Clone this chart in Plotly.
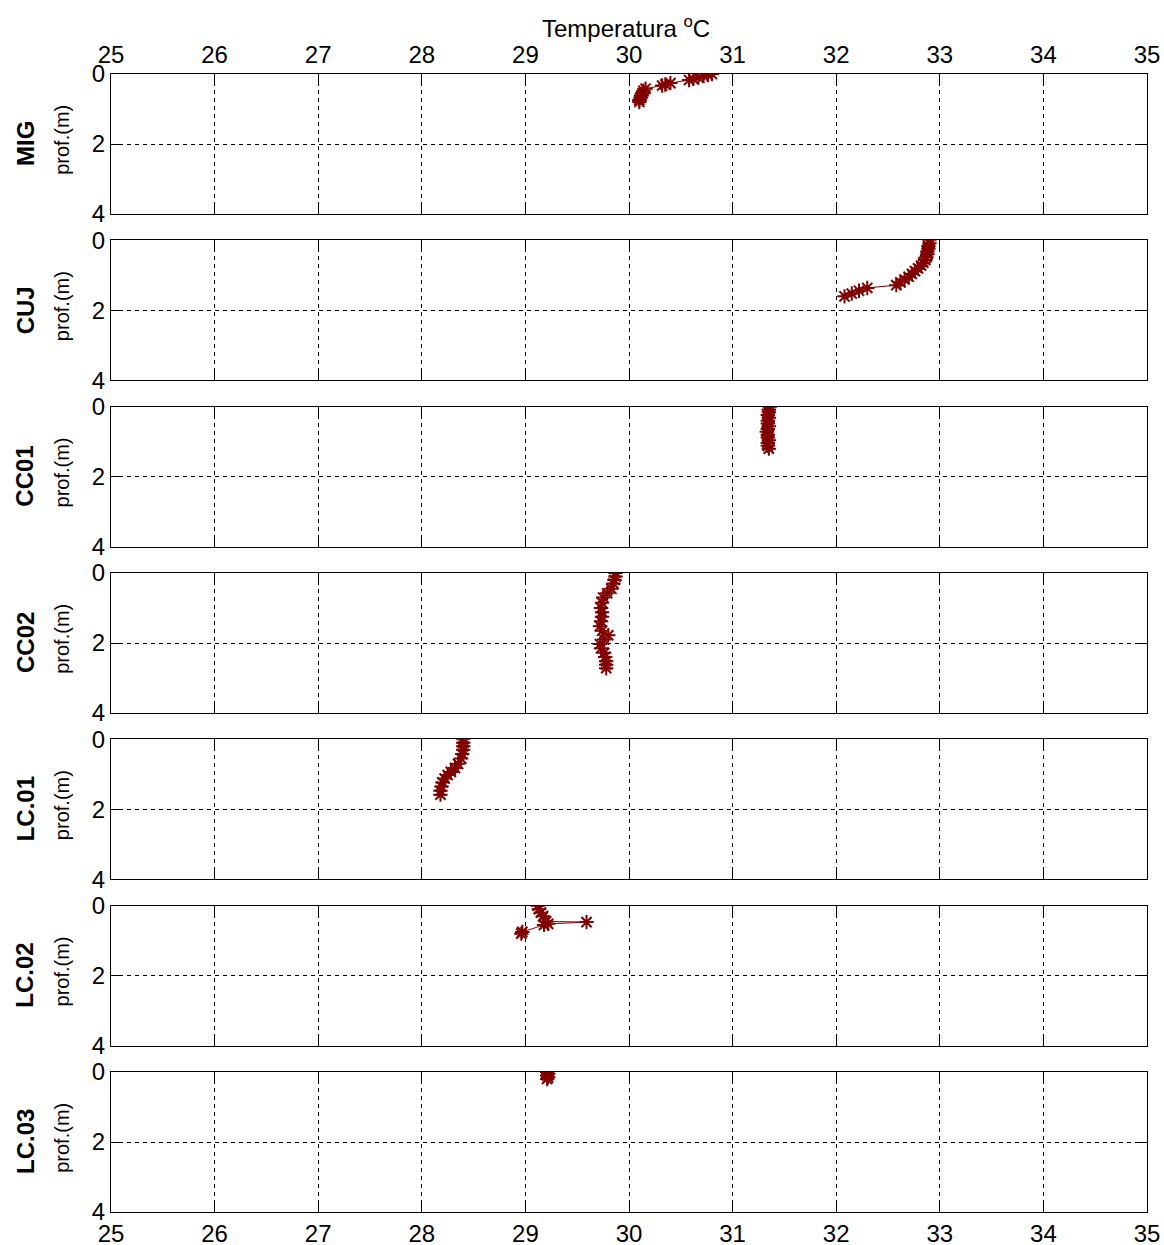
import plotly.graph_objects as go
from plotly.subplots import make_subplots

# Station names (top to bottom) and temperature profiles (°C vs depth in m)
stations = ["MIG", "CUJ", "CC01", "CC02", "LC.01", "LC.02", "LC.03"]

mig_temp = [30.80, 30.76, 30.72, 30.67, 30.62, 30.58, 30.40, 30.35, 30.32,
            30.16, 30.14, 30.13, 30.12, 30.11, 30.10, 30.10]
mig_depth = [0.00, 0.03, 0.06, 0.10, 0.14, 0.17, 0.26, 0.30, 0.33,
             0.42, 0.48, 0.55, 0.62, 0.68, 0.74, 0.80]

cuj_temp = [32.90, 32.90, 32.89, 32.89, 32.88, 32.88, 32.87, 32.86, 32.84,
            32.82, 32.79, 32.76, 32.73, 32.70, 32.66, 32.62, 32.58, 32.30,
            32.22, 32.15, 32.08]
cuj_depth = [0.00, 0.08, 0.16, 0.24, 0.32, 0.40, 0.48, 0.56, 0.64, 0.72,
             0.80, 0.88, 0.96, 1.04, 1.12, 1.20, 1.28, 1.36, 1.44, 1.52, 1.60]

cc01_temp = [31.36, 31.35, 31.35, 31.34, 31.35, 31.34, 31.34, 31.35,
             31.34, 31.33, 31.34, 31.34, 31.35, 31.34, 31.34, 31.35]
cc01_depth = [0.00, 0.08, 0.16, 0.24, 0.32, 0.40, 0.48, 0.56,
              0.64, 0.72, 0.80, 0.88, 0.96, 1.04, 1.12, 1.20]

cc02_temp = [29.87, 29.87, 29.86, 29.85, 29.83, 29.79, 29.75, 29.74, 29.73,
             29.74, 29.74, 29.73, 29.72, 29.74, 29.80, 29.76, 29.72, 29.73,
             29.76, 29.77, 29.78, 29.78, 29.78]
cc02_depth = [0.00, 0.10, 0.20, 0.30, 0.45, 0.58, 0.70, 0.85, 1.00,
              1.12, 1.25, 1.38, 1.52, 1.65, 1.78, 1.90, 2.03, 2.15,
              2.28, 2.40, 2.52, 2.62, 2.72]

lc01_temp = [28.40, 28.40, 28.40, 28.40, 28.39, 28.38, 28.35, 28.32,
             28.28, 28.25, 28.22, 28.20, 28.19, 28.18, 28.18]
lc01_depth = [0.00, 0.10, 0.20, 0.30, 0.42, 0.55, 0.70, 0.82,
              0.93, 1.02, 1.12, 1.23, 1.35, 1.47, 1.58]

lc02_temp = [29.12, 29.13, 29.15, 29.17, 29.20, 29.59, 29.22, 29.18, 28.97, 28.96]
lc02_depth = [0.00, 0.10, 0.20, 0.30, 0.45, 0.47, 0.52, 0.55, 0.75, 0.80]

lc03_temp = [29.21, 29.22, 29.21, 29.22, 29.21]
lc03_depth = [0.00, 0.05, 0.10, 0.15, 0.20]

temps = [mig_temp, cuj_temp, cc01_temp, cc02_temp, lc01_temp, lc02_temp, lc03_temp]
depths = [mig_depth, cuj_depth, cc01_depth, cc02_depth, lc01_depth, lc02_depth, lc03_depth]

x_ticks = [25, 26, 27, 28, 29, 30, 31, 32, 33, 34, 35]
y_ticks = [0, 2, 4]

W, H = 1164, 1245
ML, MR, MT, MB = 111, 17, 74, 33
plot_h = H - MT - MB
panel_h = 140
gap = (plot_h - 7 * panel_h) / 6

FONT = "Liberation Sans, Arial, sans-serif"
RED = "#800000"

fig = make_subplots(rows=7, cols=1, vertical_spacing=gap / plot_h)

for i, (t, d) in enumerate(zip(temps, depths)):
    fig.add_trace(
        go.Scatter(
            x=t, y=d, mode="lines+markers",
            line=dict(color=RED, width=1),
            marker=dict(symbol="asterisk-open", size=12,
                        line=dict(color=RED, width=2), color=RED),
            showlegend=False,
        ),
        row=i + 1, col=1,
    )

axis_common = dict(
    showline=True, linecolor="black", linewidth=1, mirror="ticks",
    ticks="inside", ticklen=10, tickwidth=1, tickcolor="black",
    showgrid=True, gridcolor="black", gridwidth=1, griddash="4px,4px",
    zeroline=False, automargin=False,
    tickfont=dict(family=FONT, size=24, color="black"),
)

for i in range(7):
    r = i + 1
    xa = dict(axis_common, range=[25, 35], tickvals=x_ticks,
              ticktext=[str(v) for v in x_ticks])
    if i == 0:
        xa.update(side="top", showticklabels=True)
    elif i == 6:
        xa.update(side="bottom", showticklabels=True)
    else:
        xa.update(showticklabels=False)
    fig.update_xaxes(**xa, row=r, col=1)
    fig.update_yaxes(**axis_common, range=[4, 0], tickvals=y_ticks,
                     ticktext=[str(v) for v in y_ticks], row=r, col=1)

    yref = "y domain" if r == 1 else f"y{r} domain"
    fig.add_annotation(
        text=f"<b>{stations[i]}</b>", xref="paper", yref=yref,
        x=(25 - ML) / (W - ML - MR), y=0.5, xanchor="center", yanchor="middle",
        textangle=-90, showarrow=False,
        font=dict(family=FONT, size=24, color="black"),
    )
    fig.add_annotation(
        text="prof.(m)", xref="paper", yref=yref,
        x=(62 - ML) / (W - ML - MR), y=0.53, xanchor="center", yanchor="middle",
        textangle=-90, showarrow=False,
        font=dict(family=FONT, size=20, color="black"),
    )

fig.add_annotation(
    text="Temperatura <sup>o</sup>C", xref="paper", yref="paper",
    x=0.497, y=1 + (MT - 27) / plot_h, xanchor="center", yanchor="middle",
    showarrow=False, font=dict(family=FONT, size=24, color="black"),
)

fig.update_layout(
    width=W, height=H,
    margin=dict(l=ML, r=MR, t=MT, b=MB, autoexpand=False),
    paper_bgcolor="white", plot_bgcolor="white",
    font=dict(family=FONT, color="black"),
)

fig.write_html("out.html")
